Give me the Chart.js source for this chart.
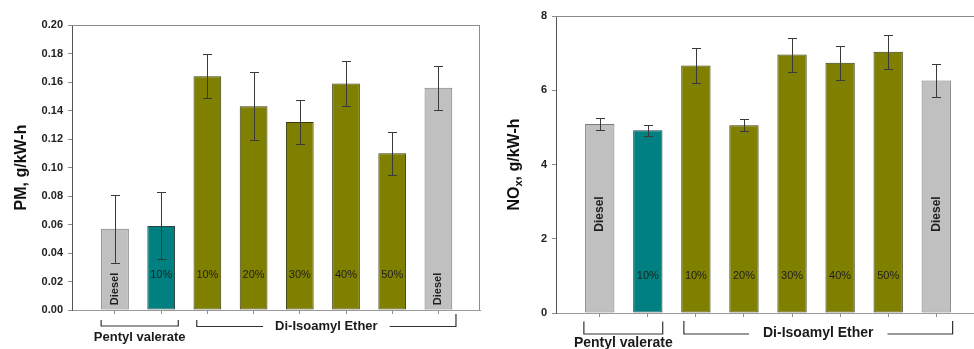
<!DOCTYPE html>
<html>
<head>
<meta charset="utf-8">
<script src="https://cdn.jsdelivr.net/npm/chart.js@4.4.1/dist/chart.umd.min.js"></script>
<style>
  body { margin: 0; background: #fff; width: 974px; height: 349px; overflow: hidden; position: relative; }
  .box { position: absolute; top: 0; height: 349px; }
</style>
</head>
<body>
<div class="box" style="left:0;width:484px"><canvas id="pm" width="484" height="349"></canvas></div>
<div class="box" style="left:484px;width:490px"><canvas id="nox" width="490" height="349"></canvas></div>
<script>
// data
const positions = [1, 2, 3, 4, 5, 6, 7, 8];
const barLabels = ['Diesel', '10%', '10%', '20%', '30%', '40%', '50%', 'Diesel'];
const pmValues = [0.057, 0.059, 0.164, 0.143, 0.132, 0.159, 0.110, 0.156];
const pmErrors = [0.024, 0.0235, 0.0155, 0.024, 0.0153, 0.0155, 0.0152, 0.0153];
const noxValues = [5.09, 4.92, 6.67, 5.06, 6.96, 6.74, 7.04, 6.26];
const noxErrors = [0.155, 0.14, 0.465, 0.155, 0.46, 0.46, 0.455, 0.455];
const pmTicks = [0, 0.02, 0.04, 0.06, 0.08, 0.10, 0.12, 0.14, 0.16, 0.18, 0.20];
const noxTicks = [0, 2, 4, 6, 8];
const groupNames = ['Pentyl valerate', 'Di-Isoamyl Ether'];

const FONT = "'Liberation Sans', Arial, sans-serif";
const fills = ['#c0c0c0', '#008080', '#808000', '#808000', '#808000', '#808000', '#808000', '#c0c0c0'];
const edges = ['#7a7a7a', '#2f3f3f', '#3a3a10', '#3a3a10', '#3a3a10', '#3a3a10', '#3a3a10', '#7a7a7a'];

const extras = {
  id: 'extras',
  afterDatasetsDraw(chart, args, o) {
    const { ctx, chartArea: a, scales: { y } } = chart;
    const meta = chart.getDatasetMeta(0);
    ctx.save();
    // error bars
    ctx.strokeStyle = '#3a3a3a';
    ctx.lineWidth = 1;
    meta.data.forEach((bar, i) => {
      const cx = Math.round(bar.x) + 0.5;
      const t = Math.round(y.getPixelForValue(o.values[i] + o.errors[i])) + 0.5;
      const b = Math.round(y.getPixelForValue(o.values[i] - o.errors[i])) + 0.5;
      ctx.beginPath();
      ctx.moveTo(cx, t); ctx.lineTo(cx, b);
      ctx.moveTo(cx - 4.5, t); ctx.lineTo(cx + 4.5, t);
      ctx.moveTo(cx - 4.5, b); ctx.lineTo(cx + 4.5, b);
      ctx.stroke();
    });
    // labels inside the bars
    ctx.fillStyle = '#1e1e1e';
    ctx.textBaseline = 'middle';
    ctx.textAlign = 'center';
    meta.data.forEach((bar, i) => {
      const txt = barLabels[i];
      if (txt === 'Diesel') {
        ctx.save();
        ctx.translate(bar.x, a.bottom - o.dieselUp);
        ctx.rotate(-Math.PI / 2);
        ctx.font = 'bold ' + o.dieselSize + 'px ' + FONT;
        ctx.fillText(txt, 0, 0);
        ctx.restore();
      } else {
        ctx.font = o.pctSize + 'px ' + FONT;
        ctx.fillText(txt, bar.x, a.bottom - o.pctUp);
      }
    });
    ctx.restore();
  },
  afterDraw(chart, args, o) {
    const { ctx, chartArea: a, scales: { x } } = chart;
    ctx.save();
    // frame
    ctx.strokeStyle = '#8c8c8c';
    ctx.lineWidth = 1;
    ctx.beginPath();
    ctx.moveTo(a.left, a.top + 0.5); ctx.lineTo(a.right, a.top + 0.5);
    if (o.rightBorder) { ctx.moveTo(a.right - 0.5, a.top); ctx.lineTo(a.right - 0.5, a.bottom); }
    ctx.stroke();

    // y title
    ctx.save();
    ctx.translate(a.left - o.titleGap, (a.top + a.bottom) / 2);
    ctx.rotate(-Math.PI / 2);
    ctx.fillStyle = '#111';
    ctx.textBaseline = 'middle';
    ctx.textAlign = 'left';
    let w = 0;
    o.title.forEach(p => { ctx.font = 'bold ' + p.size + 'px ' + FONT; w += ctx.measureText(p.t).width; });
    let px = -w / 2;
    o.title.forEach(p => {
      ctx.font = 'bold ' + p.size + 'px ' + FONT;
      ctx.fillText(p.t, px, p.dy || 0);
      px += ctx.measureText(p.t).width;
    });
    ctx.restore();

    // group brackets
    ctx.strokeStyle = '#333';
    ctx.fillStyle = '#1a1a1a';
    ctx.lineWidth = 1.2;
    ctx.textAlign = 'center';
    ctx.textBaseline = 'middle';
    ctx.font = 'bold ' + o.groupSize + 'px ' + FONT;
    const b = a.bottom;
    // pentyl valerate
    const p = o.pentyl;
    let x1 = x.getPixelForValue(positions[0] + p.from);
    let x2 = x.getPixelForValue(positions[1] + p.to);
    ctx.beginPath();
    ctx.moveTo(x1, b + p.top); ctx.lineTo(x1, b + p.base); ctx.lineTo(x2, b + p.base); ctx.lineTo(x2, b + p.top);
    ctx.stroke();
    ctx.fillText(groupNames[0], (x1 + x2) / 2, b + p.text);
    // di-isoamyl ether
    const e = o.ether;
    x1 = x.getPixelForValue(positions[2] + e.from);
    x2 = x.getPixelForValue(positions[7] + e.to);
    const mid = (x1 + x2) / 2;
    const half = ctx.measureText(groupNames[1]).width / 2 + e.gap;
    ctx.beginPath();
    ctx.moveTo(x1, b + e.topL); ctx.lineTo(x1, b + e.base); ctx.lineTo(mid - half, b + e.base);
    ctx.moveTo(mid + half, b + e.base); ctx.lineTo(x2, b + e.base); ctx.lineTo(x2, b + e.topR);
    ctx.stroke();
    ctx.fillText(groupNames[1], mid, b + e.text);
    ctx.restore();
  }
};

function makeChart(id, values, errors, ticks, cfg) {
  return new Chart(document.getElementById(id), {
    type: 'bar',
    data: {
      datasets: [{
        data: positions.map((p, i) => ({ x: p, y: values[i] })),
        backgroundColor: fills,
        borderColor: edges,
        borderWidth: 1,
        borderSkipped: false,
        barPercentage: cfg.barPct,
        categoryPercentage: 1
      }]
    },
    options: {
      responsive: false,
      animation: false,
      devicePixelRatio: 1,
      layout: { padding: cfg.padding },
      plugins: {
        legend: { display: false },
        tooltip: { enabled: false },
        extras: {
          values: values, errors: errors,
          rightBorder: cfg.rightBorder,
          title: cfg.title, titleGap: cfg.titleGap,
          dieselUp: cfg.dieselUp, dieselSize: cfg.dieselSize,
          pctUp: cfg.pctUp, pctSize: 11,
          groupSize: cfg.groupSize,
          pentyl: cfg.pentyl, ether: cfg.ether
        }
      },
      scales: {
        x: {
          type: 'linear',
          min: cfg.xMin, max: cfg.xMax,
          offset: false,
          afterBuildTicks: s => { s.ticks = positions.map(v => ({ value: v })); },
          afterFit: s => { s.height = cfg.xHeight; },
          ticks: { callback: () => '' },
          grid: { drawOnChartArea: false, offset: false, tickLength: 4, color: '#8c8c8c' },
          border: { color: '#9a9a9a' }
        },
        y: {
          min: ticks[0], max: ticks[ticks.length - 1],
          afterBuildTicks: s => { s.ticks = ticks.map(v => ({ value: v })); },
          afterFit: s => { s.width = 72; },
          ticks: {
            callback: cfg.tickFmt,
            color: '#222',
            padding: 5,
            font: { family: FONT, weight: 'bold', size: 11 }
          },
          grid: { drawOnChartArea: false, tickLength: 4, color: '#8c8c8c' },
          border: { color: '#555' }
        }
      }
    },
    plugins: [extras]
  });
}

makeChart('pm', pmValues, pmErrors, pmTicks, {
  padding: { left: 0, top: 25, right: 4, bottom: 0 },
  xMin: 0.07, xMax: 8.9, xHeight: 39, barPct: 0.6,
  rightBorder: true,
  tickFmt: v => v.toFixed(2),
  title: [{ t: 'PM, g/kW-h', size: 16 }],
  titleGap: 50,
  dieselUp: 21, dieselSize: 11,
  pctUp: 35,
  groupSize: 13,
  pentyl: { from: -0.3, to: 0.37, top: 10, base: 16, text: 27 },
  ether: { from: -0.23, to: 0.38, topL: 10, topR: 4, base: 16.5, text: 16.5, gap: 12 }
});

makeChart('nox', noxValues, noxErrors, noxTicks, {
  padding: { left: 0, top: 16, right: 0, bottom: 0 },
  xMin: 0.09, xMax: 8.785, xHeight: 36, barPct: 0.61,
  rightBorder: false,
  tickFmt: v => String(v),
  title: [{ t: 'NO', size: 16 }, { t: 'x', size: 11, dy: 4 }, { t: ', g/kW-h', size: 16 }],
  titleGap: 41,
  dieselUp: 99, dieselSize: 12,
  pctUp: 37,
  groupSize: 14,
  pentyl: { from: -0.33, to: 0.31, top: 8.5, base: 21, text: 30 },
  ether: { from: -0.25, to: 0.34, topL: 8, topR: 8, base: 21, text: 20, gap: 14 }
});
</script>
</body>
</html>
